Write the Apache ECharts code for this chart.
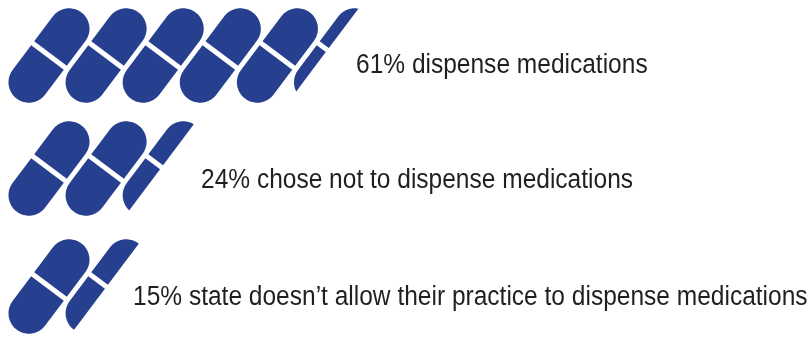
<!DOCTYPE html>
<html>
<head>
<meta charset="utf-8">
<style>html,body{margin:0;padding:0;background:#fff}#chart{width:812px;height:337px}</style>
<script src="https://cdn.jsdelivr.net/npm/echarts@6/dist/echarts.min.js"></script>
</head>
<body>
<div id="chart"></div>
<script>
// Share of practices per answer, and how many capsules each row shows
const rowLabels = [
  '61% dispense medications',
  '24% chose not to dispense medications',
  '15% state doesn\u2019t allow their practice to dispense medications'
];
const capsuleCounts = [5.28, 2.45, 1.51];

// Capsule geometry in px, along the tilted long axis (u) and across it (v)
const UNIT = 57.1, RADIUS = 20.4, SHAFT = 67, SLIT = 5;
const AXIS = [0.6, -0.8], ACROSS = [0.8, 0.6];
const rowTops = [27.2, 140.2, 258.2];
const LABEL_NUDGE = [[21.5, 10], [37.8, 12], [26.9, 11]];
const LABEL_SQUEEZE = 0.908;

// One half of a capsule as (u,v) points; sign picks the upper or lower half
function halfCapsule(sign) {
  const pts = [[sign * SLIT / 2, -RADIUS], [sign * SHAFT / 2, -RADIUS]];
  for (let i = 1; i < 48; i++) {
    const a = -Math.PI / 2 + Math.PI * i / 48;
    pts.push([sign * (SHAFT / 2 + RADIUS * Math.cos(a)), RADIUS * Math.sin(a)]);
  }
  pts.push([sign * SHAFT / 2, RADIUS], [sign * SLIT / 2, RADIUS]);
  return pts;
}

// Keep only the part of a convex outline with v at or below the limit
function clipAcross(pts, limit) {
  const out = [];
  pts.forEach((p, i) => {
    const q = pts[(i + 1) % pts.length];
    const pIn = p[1] <= limit, qIn = q[1] <= limit;
    if (pIn) out.push(p);
    if (pIn !== qIn) {
      const t = (limit - p[1]) / (q[1] - p[1]);
      out.push([p[0] + (q[0] - p[0]) * t, limit]);
    }
  });
  return out;
}

function toScreen(pts, cx, cy) {
  return pts.map(([u, v]) => [cx + u * AXIS[0] + v * ACROSS[0], cy + u * AXIS[1] + v * ACROSS[1]]);
}

function renderCapsule(params, api) {
  const slot = api.value(0), fill = api.value(1), row = api.value(2);
  const [cx, cy] = api.coord([slot + 0.5, 0]);
  const limit = -RADIUS + 2 * RADIUS * fill;
  const children = [1, -1].map(sign => {
    const pts = fill < 1 ? clipAcross(halfCapsule(sign), limit) : halfCapsule(sign);
    return {
      type: 'polygon',
      shape: { points: toScreen(pts, cx, cy) },
      style: { fill: '#263f8e' }
    };
  });
  if (slot === Math.ceil(capsuleCounts[row]) - 1) {
    children.push({
      type: 'text',
      x: cx + LABEL_NUDGE[row][0],
      y: cy + LABEL_NUDGE[row][1],
      scaleX: LABEL_SQUEEZE,
      style: {
        text: rowLabels[row],
        fill: '#231f20',
        font: '27px "Liberation Sans", sans-serif',
        verticalAlign: 'middle'
      }
    });
  }
  return { type: 'group', children };
}

// One data item per capsule: slot, filled share, row
function capsulesFor(count, row) {
  const items = [];
  for (let i = 0; i < Math.ceil(count); i++) items.push([i, Math.min(1, count - i), row]);
  return items;
}

const chart = echarts.init(document.getElementById('chart'));
chart.setOption({
  animation: false,
  grid: rowTops.map(top => ({ left: 20.45, top, width: UNIT * 10, height: 56.6 })),
  xAxis: rowTops.map((_, i) => ({ type: 'value', gridIndex: i, min: 0, max: 10, show: false })),
  yAxis: rowTops.map((_, i) => ({ type: 'value', gridIndex: i, min: -1, max: 1, show: false })),
  series: capsuleCounts.map((count, row) => ({
    type: 'custom',
    xAxisIndex: row,
    yAxisIndex: row,
    clip: false,
    renderItem: renderCapsule,
    encode: { x: 0 },
    data: capsulesFor(count, row)
  }))
});
</script>
</body>
</html>
